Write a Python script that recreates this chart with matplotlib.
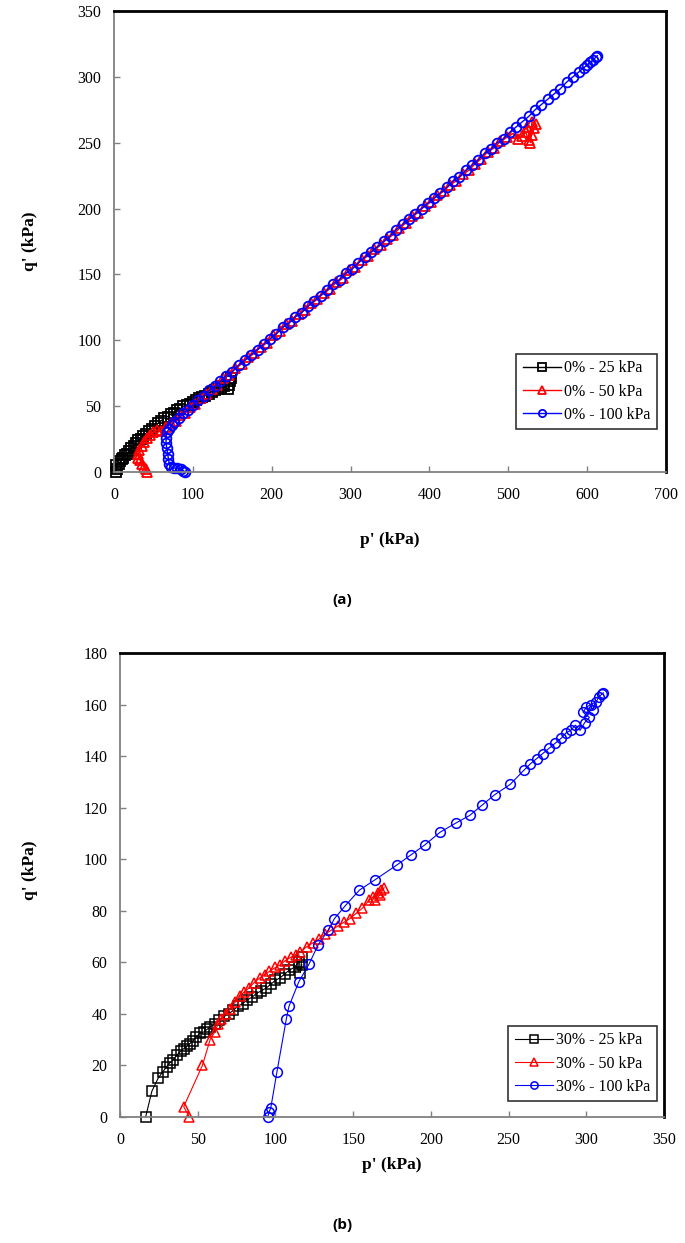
import matplotlib
matplotlib.use("Agg")
import matplotlib.pyplot as plt

# ---- (a) 0% series ----
a_p_25 = [2, 4, 3, 6, 8, 10, 12, 14, 16, 19, 22, 25, 28, 31, 34, 37, 40, 44, 48, 52, 56,
          60, 64, 68, 72, 76, 80, 84, 88, 92, 96, 100, 104, 108, 112, 116, 120, 124, 128,
          132, 136, 140, 144, 146, 147, 148]
a_q_25 = [0, 2, 5, 6, 8, 10, 11, 13, 14, 16, 18, 20, 22, 24, 25, 27, 29, 31, 33, 35, 37,
          39, 41, 42, 44, 45, 47, 48, 50, 51, 52, 53, 55, 56, 57, 58, 59, 61, 62, 63, 64,
          65, 63, 66, 69, 71]

a_p_50 = [42, 40, 38, 36, 33, 31, 30, 32, 35, 38, 42, 46, 50, 55, 60, 66, 72, 78, 84, 90,
          96, 103, 110, 117, 124, 131, 138, 146, 154, 162, 170, 178, 186, 194, 202, 210,
          218, 226, 234, 242, 250, 258, 266, 274, 282, 290, 298, 306, 314, 322, 330, 338,
          346, 354, 362, 370, 378, 386, 394, 402, 410, 418, 426, 434, 442, 450, 458, 466,
          474, 482, 490, 498, 506, 512, 518, 522, 526, 530, 533, 535, 530, 528, 524]
a_q_50 = [0, 2, 4, 6, 9, 11, 14, 17, 20, 23, 26, 28, 30, 32, 31, 34, 37, 39, 43, 45,
          49, 52, 56, 59, 63, 66, 71, 74, 79, 82, 87, 90, 95, 98, 104, 107, 112, 115, 120,
          123, 128, 131, 136, 139, 144, 147, 153, 156, 161, 164, 169, 172, 177, 180, 185,
          189, 194, 197, 202, 205, 210, 213, 218, 221, 226, 229, 234, 238, 243, 246, 251,
          254, 257, 253, 255, 258, 252, 256, 261, 264, 266, 250, 262]

a_p_100 = [90, 88, 85, 80, 76, 72, 70, 69, 68, 67, 66, 66, 67, 70, 74, 76, 82, 88, 94, 100,
           107, 114, 121, 128, 135, 142, 150, 158, 166, 174, 182, 190, 198, 206, 214, 222,
           230, 238, 246, 254, 262, 270, 278, 286, 294, 302, 310, 318, 326, 334, 342, 350,
           358, 366, 374, 382, 390, 398, 406, 414, 422, 430, 438, 446, 454, 462, 470, 478,
           486, 494, 502, 510, 518, 526, 534, 542, 550, 558, 566, 574, 582, 590, 596, 600,
           604, 608, 611, 613]
a_q_100 = [0, 1, 2, 3, 3, 4, 6, 10, 14, 18, 22, 26, 30, 33, 36, 38, 41, 45, 47, 51,
           55, 58, 62, 65, 69, 73, 76, 81, 85, 89, 93, 97, 101, 105, 110, 113, 118, 121,
           126, 130, 134, 138, 143, 146, 151, 154, 159, 163, 167, 171, 175, 179, 184, 188,
           192, 196, 200, 204, 208, 212, 216, 221, 224, 229, 233, 237, 242, 245, 250, 253,
           258, 262, 266, 270, 275, 279, 283, 287, 291, 296, 300, 304, 307, 309, 311, 313,
           315, 316]

# ---- (b) 30% series ----
b_p_25 = [16.5, 20.5, 24.5, 27.5, 30, 32, 34, 36.5, 39, 41, 43, 45, 47, 49, 51.5, 54, 56,
          58, 61, 64, 67, 70, 73, 76, 79, 82, 85, 88, 91, 94, 97, 100, 103, 106, 109, 112,
          115, 117, 116, 117]
b_q_25 = [0, 10, 15, 17.5, 19.5, 21, 22, 24, 25.5, 26.5, 27.5, 28.5, 29.5, 31, 32.5, 33,
          34, 35, 36, 37.5, 39, 40, 41.5, 43, 44, 45.5, 46.5, 48, 49, 50, 51.5, 53, 54,
          55.5, 57, 58, 60, 62, 56, 59]

b_p_50 = [44.6, 41, 53, 58, 61, 63, 65, 68, 71, 74, 77, 80, 83, 86, 90, 93, 96, 100, 103,
          106, 110, 113, 116, 120, 124, 128, 132, 136, 140, 144, 148, 152, 156, 160, 163,
          166, 168, 170, 167, 164]
b_q_50 = [0, 4, 20, 30, 33, 36, 38, 40, 42, 44.5, 47, 48.5, 50, 52, 54, 55, 56.5, 58, 59,
          60.5, 62, 63, 64, 66, 67.5, 69, 71, 72.5, 74, 75.5, 77, 79, 81, 84, 85.5, 87, 88,
          89, 86, 84]

b_p_100 = [95, 96, 97, 101, 107, 108.7, 115, 121.6, 127.4, 134, 138, 145, 154, 164, 178,
           187, 196, 206, 216, 225, 233, 241, 251, 260, 264, 268, 272, 276, 280, 284, 287,
           290, 293, 296, 299, 302, 298, 300, 303, 306, 304, 308, 310, 311]
b_q_100 = [0, 2, 3.5, 17.6, 38, 42.9, 52.4, 59.3, 66.7, 72.5, 77, 82, 88, 92, 97.7, 101.6,
           105.5, 110.5, 114, 117, 121, 125, 129, 134.6, 137, 139, 141, 143, 145, 147, 149,
           150, 152, 150, 153, 155, 157, 159, 160, 161, 158, 163, 164, 164.5]

labels_a = ["0% - 25 kPa", "0% - 50 kPa", "0% - 100 kPa"]
labels_b = ["30% - 25 kPa", "30% - 50 kPa", "30% - 100 kPa"]
colors = ["black", "#FF0000", "#0000FF"]
markers = ["s", "^", "o"]

serif = ["Liberation Serif", "DejaVu Serif"]
plt.rcParams["font.family"] = serif

fig = plt.figure(figsize=(6.85, 12.43), dpi=100)
W, H = 685.0, 1243.0


def make_axes(x0, x1, ytop, ybot):
    return fig.add_axes([x0 / W, 1 - ybot / H, (x1 - x0) / W, (ybot - ytop) / H])


def style(ax, xmax, xstep, ymax, ystep):
    ax.set_xlim(0, xmax)
    ax.set_ylim(0, ymax)
    ax.set_xticks(range(0, xmax + 1, xstep))
    ax.set_yticks(range(0, ymax + 1, ystep))
    for s in ["left", "bottom"]:
        ax.spines[s].set_color("#808080")
        ax.spines[s].set_linewidth(1.3)
    for s in ["top", "right"]:
        ax.spines[s].set_color("black")
        ax.spines[s].set_linewidth(2.0)
    ax.tick_params(direction="in", length=4, width=1, color="#808080",
                   labelsize=11.5, labelcolor="black")
    ax.tick_params(axis="x", pad=11)
    ax.tick_params(axis="y", pad=9)
    for t in ax.get_xticklabels() + ax.get_yticklabels():
        t.set_fontfamily(serif)


# ---- panel (a) ----
ax1 = make_axes(114, 666, 11, 472)
series_a = [(a_p_25, a_q_25), (a_p_50, a_q_50), (a_p_100, a_q_100)]
for (p, q), c, m, lab in zip(series_a, colors, markers, labels_a):
    ax1.plot(p, q, color=c, marker=m, markersize=7, markerfacecolor="none",
             markeredgewidth=1.3, linewidth=1.0, label=lab, clip_on=False)
style(ax1, 700, 100, 350, 50)
leg1 = ax1.legend(loc="lower right", bbox_to_anchor=(0.984, 0.093), frameon=True,
                  fancybox=False, edgecolor="black", fontsize=11.5, handlelength=2.4,
                  handletextpad=0.2, borderpad=0.4, labelspacing=0.45, borderaxespad=0,
                  markerscale=0.75)
leg1.get_frame().set_linewidth(1.2)

# ---- panel (b) ----
ax2 = make_axes(120, 664, 653, 1117)
series_b = [(b_p_25, b_q_25), (b_p_50, b_q_50), (b_p_100, b_q_100)]
for (p, q), c, m, lab in zip(series_b, colors, markers, labels_b):
    ax2.plot(p, q, color=c, marker=m, markersize=7, markerfacecolor="none",
             markeredgewidth=1.1, linewidth=0.8, label=lab, clip_on=False)
style(ax2, 350, 50, 180, 20)
leg2 = ax2.legend(loc="lower right", bbox_to_anchor=(0.987, 0.034), frameon=True,
                  fancybox=False, edgecolor="black", fontsize=11.5, handlelength=2.4,
                  handletextpad=0.2, borderpad=0.4, labelspacing=0.45, borderaxespad=0,
                  markerscale=0.75)
leg2.get_frame().set_linewidth(1.2)

# ---- labels ----
fig.text(390 / W, 1 - 540 / H, "p' (kPa)", ha="center", va="center",
         fontsize=12.5, fontweight="bold", family=serif)
fig.text(30 / W, 1 - 241 / H, "q' (kPa)", ha="center", va="center", rotation=90,
         fontsize=12.5, fontweight="bold", family=serif)
fig.text(342 / W, 1 - 600 / H, "(a)", ha="center", va="center",
         fontsize=11, fontweight="bold", family=["Open Sans", "DejaVu Sans"])

fig.text(392 / W, 1 - 1165 / H, "p' (kPa)", ha="center", va="center",
         fontsize=12.5, fontweight="bold", family=serif)
fig.text(30 / W, 1 - 870 / H, "q' (kPa)", ha="center", va="center", rotation=90,
         fontsize=12.5, fontweight="bold", family=serif)
fig.text(342 / W, 1 - 1225 / H, "(b)", ha="center", va="center",
         fontsize=11, fontweight="bold", family=["Open Sans", "DejaVu Sans"])

fig.savefig("out.png", dpi=100)
